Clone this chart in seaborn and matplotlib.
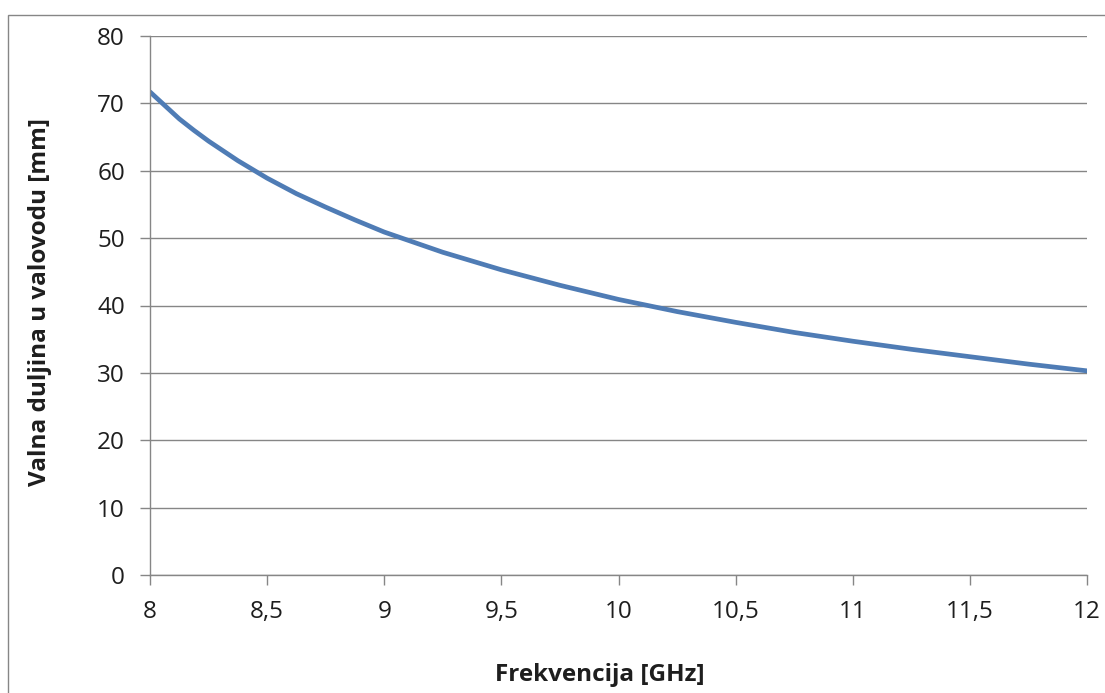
import matplotlib
matplotlib.use("Agg")
import matplotlib.pyplot as plt
from matplotlib.patches import Rectangle
from matplotlib.ticker import FuncFormatter
import seaborn as sns
import pandas as pd

# frekvencija [GHz] i valna duljina u valovodu [mm], ocitano sa slike
freq_ghz = [8.0, 8.0625, 8.125, 8.1875, 8.25, 8.375, 8.5, 8.625, 8.75, 8.875,
            9.0, 9.25, 9.5, 9.75, 10.0, 10.25, 10.5, 10.75, 11.0, 11.25,
            11.5, 11.75, 12.0]
lambda_mm = [71.7, 69.7, 67.7, 66.0, 64.4, 61.5, 58.9, 56.6, 54.6, 52.7,
             50.9, 47.9, 45.3, 43.0, 40.9, 39.1, 37.5, 36.0, 34.7, 33.5,
             32.4, 31.3, 30.3]

x_ticks = [8, 8.5, 9, 9.5, 10, 10.5, 11, 11.5, 12]
y_ticks = [0, 10, 20, 30, 40, 50, 60, 70, 80]

df = pd.DataFrame({"f": freq_ghz, "lam": lambda_mm})

sns.set_style("white")
plt.rcParams["font.family"] = ["Open Sans", "DejaVu Sans"]

grey = "#868686"
txt = "#1e1e1e"
fig = plt.figure(figsize=(11.05, 6.93), dpi=100)
ax = fig.add_axes([150 / 1105, 1 - 575 / 693, (1087 - 150) / 1105, (575 - 36) / 693])

sns.lineplot(data=df, x="f", y="lam", ax=ax, color="#4F7CB5", linewidth=3.4)

ax.set_xlim(8, 12)
ax.set_ylim(0, 80)
ax.set_xticks(x_ticks)
ax.set_yticks(y_ticks)
ax.xaxis.set_major_formatter(FuncFormatter(lambda v, p: f"{v:g}".replace(".", ",")))
ax.yaxis.grid(True, color=grey, linewidth=1.0)
ax.set_axisbelow(True)

for s in ["top", "right"]:
    ax.spines[s].set_visible(False)
for s in ["left", "bottom"]:
    ax.spines[s].set_color(grey)
    ax.spines[s].set_linewidth(1.0)

ax.tick_params(axis="both", direction="out", length=7, width=1, color=grey,
               labelsize=17.5, labelcolor=txt, pad=11)
ax.tick_params(axis="y", left=True)
ax.tick_params(axis="x", bottom=True)

ax.set_xlabel("Frekvencija [GHz]", fontsize=17.5, fontweight="bold", color=txt)
ax.set_ylabel("Valna duljina u valovodu [mm]", fontsize=17.5, fontweight="bold", color=txt)
ax.xaxis.set_label_coords(600 / 1105, 1 - 663 / 693, transform=fig.transFigure)
ax.yaxis.set_label_coords(52 / 1105, 1 - 302 / 693, transform=fig.transFigure)

# okvir oko cijelog grafikona
fig.add_artist(Rectangle((8 / 1105, -0.05), 1.1, 1.05 - 15 / 693,
                         transform=fig.transFigure, fill=False,
                         edgecolor=grey, linewidth=1.0))

fig.savefig("out.png", dpi=100, facecolor="white")
